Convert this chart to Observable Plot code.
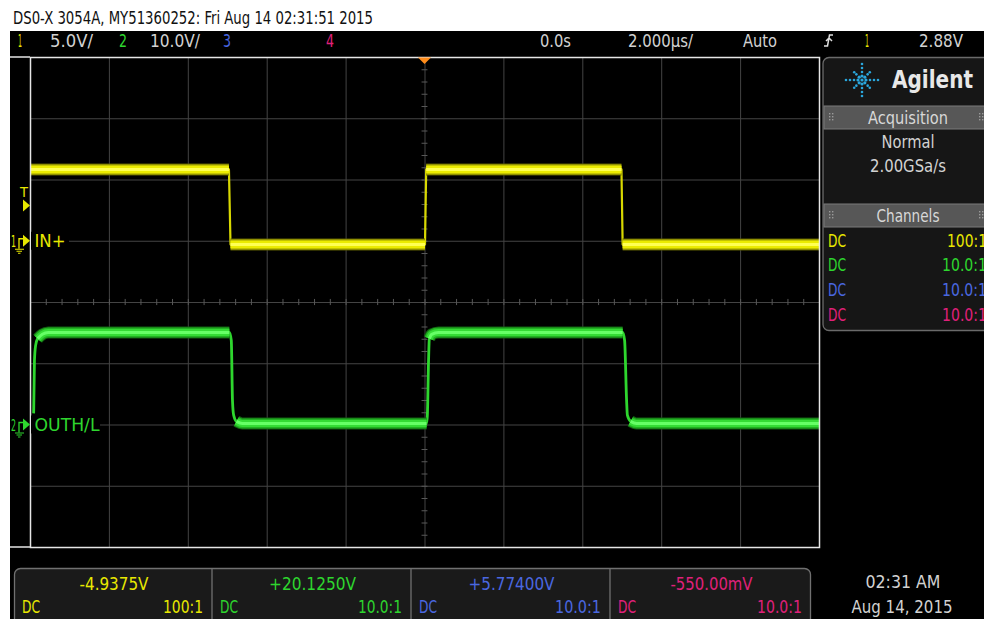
<!DOCTYPE html>
<html><head><meta charset="utf-8">
<script src="https://cdn.jsdelivr.net/npm/d3@7"></script>
<script src="https://cdn.jsdelivr.net/npm/@observablehq/plot@0.6"></script>
<style>
body{margin:0;background:#fff;}
#chart{position:relative;width:984px;height:619px;overflow:hidden;}
svg text{font-family:"Liberation Sans Narrow","DejaVu Sans Condensed","Roboto Condensed",sans-serif;}
</style></head><body><div id="chart"></div>
<script>
const titleText = "DS0-X 3054A, MY51360252: Fri Aug 14 02:31:51 2015";
const channelNames = ["1", "2", "3", "4"];
const channelColors = ["#e8e800", "#2ed62e", "#4a68e0", "#e0207a"];
const channelVPerDiv = [5, 10, 10, 10];        // V/div
const channelOffsetDiv = [1, -2, 0, 0];        // ground marker position, divisions
const channelLabels = ["IN+", "OUTH/L"];
const scaleLabels = ["5.0V/", "10.0V/"];
const timeLabels = ["0.0s", "2.000µs/", "Auto"];
const trigLevelV = 2.88;
const trigLabel = "2.88V";
const measValues = ["-4.9375V", "+20.1250V", "+5.77400V", "-550.00mV"];
const probeRatios = ["100:1", "10.0:1", "10.0:1", "10.0:1"];
const couplings = ["DC", "DC", "DC", "DC"];
const acqLines = ["Normal", "2.00GSa/s"];
const dateLines = ["02:31 AM", "Aug 14, 2015"];
const timeDomain = [-10, 10];   // µs (10 div × 2 µs)
const divDomain = [-4, 4];

// channel 1 (yellow) trace: time µs, volts
const ch1Time  = [-10, -4.97, -4.93, 0.00, 0.03, 4.98, 5.01, 10];
const ch1Volts = [5.86, 5.86, -0.27, -0.27, 5.86, 5.86, -0.27, -0.27];
const ch1Levels = [5.86, -0.27];
// channel 2 (green) trace
const ch2Time  = [-9.92, -9.90, -9.87, -9.82, -9.70, -9.55, -4.96, -4.91, -4.88, -4.85, -4.78, -4.63,
                  0.04, 0.06, 0.09, 0.11, 0.17, 0.34, 5.01, 5.06, 5.11, 5.13, 5.21, 5.36, 10];
const ch2Volts = [1.9, 10.5, 13.0, 14.1, 14.8, 15.1, 15.1, 13.8, 4.0, 1.6, 0.6, 0.25,
                  0.25, 1.6, 10.5, 14.1, 14.8, 15.1, 15.1, 13.8, 4.0, 1.6, 0.6, 0.25, 0.25];
const ch2Levels = [15.1, 0.25];

// ---- build ----
const toDiv = (v, ch) => channelOffsetDiv[ch] + v / channelVPerDiv[ch];
const pts1 = ch1Time.map((t, i) => ({t, v: ch1Volts[i], d: toDiv(ch1Volts[i], 0)}));
const pts2 = ch2Time.map((t, i) => ({t, v: ch2Volts[i], d: toDiv(ch2Volts[i], 1)}));
// split the trace into runs that sit on a settled level (the noisy band)
function bandRuns(pts, levels, tol) {
  const out = []; let seg = 0, prevLevel = null;
  pts.forEach(p => {
    const lv = levels.findIndex(l => Math.abs(p.v - l) <= tol);
    if (lv < 0) { prevLevel = null; return; }
    if (lv !== prevLevel) seg++;
    prevLevel = lv;
    out.push({...p, seg});
  });
  return out;
}
const r1 = bandRuns(pts1, ch1Levels, 0.01);
const r2 = bandRuns(pts2, ch2Levels, 1.0);

function bandMarks(r, cols, widths, curve) {
  return widths.map((w, i) => Plot.line(r, {x: "t", y: "d", z: "seg", stroke: cols[i], strokeWidth: w, curve,
    strokeLinecap: "butt", strokeLinejoin: "round"}));
}

const gridX = d3.range(-8, 9, 2);
const gridY = d3.range(-3, 4, 1);
const minorX = d3.range(-10, 10.001, 0.4);
const minorY = d3.range(-4, 4.001, 0.2);

const chart = Plot.plot({
  width: 984, height: 619,
  marginLeft: 30, marginRight: 165, marginTop: 57, marginBottom: 72,
  x: {domain: timeDomain, axis: null},
  y: {domain: divDomain, axis: null},
  style: {background: "transparent", overflow: "visible"},
  marks: [
    Plot.ruleX(gridX, {stroke: "#444", strokeWidth: 1}),
    Plot.ruleY(gridY, {stroke: "#444", strokeWidth: 1}),
    Plot.ruleX(minorX, {y1: -0.05, y2: 0.05, stroke: "#585858"}),
    Plot.ruleY(minorY, {x1: -0.075, x2: 0.075, stroke: "#585858"}),
    Plot.line(pts1, {x: "t", y: "d", stroke: "#d8d800", strokeWidth: 2.2, strokeLinecap: "butt"}),
    ...bandMarks(r1, ["#5c5c00", "#c4c400", "#ecec00", "#ffff55"], [12, 10, 7, 3], "linear"),
    Plot.line(pts2, {x: "t", y: "d", stroke: "#2ed62e", strokeWidth: 2.8, curve: "monotone-x", strokeLinecap: "butt"}),
    ...bandMarks(r2, ["#106010", "#22b022", "#34dc34", "#66ff66"], [12, 10, 7, 3], "monotone-x"),
    Plot.frame({stroke: "#e6e6e6", strokeWidth: 1.5})
  ]
});
document.getElementById("chart").appendChild(chart);

const svg = d3.select(chart);
const X = chart.scale("x"), Y = chart.scale("y");
const bg = svg.insert("g", ":first-child");
bg.append("rect").attr("x", 0).attr("y", 0).attr("width", 984).attr("height", 619).attr("fill", "#fff");
bg.append("rect").attr("x", 10).attr("y", 31).attr("width", 974).attr("height", 588).attr("fill", "#000");

const g = svg.append("g").attr("text-anchor", "start");
function T(x, y, s, o = {}) {
  const t = g.append("text").attr("x", x).attr("y", y).text(s)
    .attr("fill", o.fill || "#d2d2d2").attr("font-size", o.size || 17)
    .attr("text-anchor", o.anchor || "start");
  if (o.len) t.attr("textLength", o.len).attr("lengthAdjust", "spacingAndGlyphs");
  if (o.weight) t.attr("font-weight", o.weight);
  if (o.family) t.attr("font-family", o.family);
  return t;
}
// extend top/bottom borders to left edge
g.append("line").attr("x1", 10).attr("x2", 30).attr("y1", 57).attr("y2", 57).attr("stroke", "#e6e6e6").attr("stroke-width", 1.5);
g.append("line").attr("x1", 10).attr("x2", 30).attr("y1", 547).attr("y2", 547).attr("stroke", "#e6e6e6").attr("stroke-width", 1.5);

// title
T(13, 24, titleText, {fill: "#111", size: 17, len: 360});

// top bar
T(18, 47, channelNames[0], {fill: channelColors[0], size: 18, len: 4});
T(50, 47, scaleLabels[0], {size: 18, len: 43});
T(119, 47, channelNames[1], {fill: channelColors[1], size: 18, len: 8});
T(150, 47, scaleLabels[1], {size: 18, len: 50});
T(223, 47, channelNames[2], {fill: channelColors[2], size: 18, len: 8});
T(326, 47, channelNames[3], {fill: channelColors[3], size: 18, len: 8});
T(540, 47, timeLabels[0], {size: 18, len: 31});
T(628, 47, timeLabels[1], {size: 18, len: 65});
T(743, 47, timeLabels[2], {size: 18, len: 34});
g.append("path").attr("d", "M824,46 H827.5 L829.5,35 H833 M826,41 L829,38 L832,41")
  .attr("stroke", "#e0e0e0").attr("fill", "none").attr("stroke-width", 1.5);
T(865, 47, channelNames[0], {fill: channelColors[0], size: 18, len: 4});
T(919, 47, trigLabel, {size: 18, len: 44});

// trigger position marker
const tx = X.apply(0);
g.append("path").attr("d", `M${tx - 6.5},57.5 L${tx + 6.5},57.5 L${tx},64 Z`).attr("fill", "#ff8c1a");

// trigger level marker
const ty = Y.apply(toDiv(trigLevelV, 0));
T(20, ty - 8, "T", {fill: channelColors[0], size: 14, len: 8});
g.append("path").attr("d", `M23,${ty - 6} L30,${ty} L23,${ty + 6} Z`).attr("fill", channelColors[0]);

// ground markers
function groundMarker(ch, label, lblLen, maskW) {
  const y0 = Y.apply(channelOffsetDiv[ch]);
  const c = channelColors[ch];
  g.append("rect").attr("x", 31).attr("y", y0 - 9).attr("width", maskW).attr("height", 18).attr("fill", "#000");
  T(11, y0 + 6, channelNames[ch], {fill: c, size: 15, len: 5});
  g.append("path").attr("d", `M19,${y0 + 8} V${y0 - 2} H24`).attr("stroke", c).attr("fill", "none").attr("stroke-width", 1.3);
  g.append("path").attr("d", `M15,${y0 + 8.5} H24 M16.5,${y0 + 10.5} H22 M18,${y0 + 12.5} H20.5`).attr("stroke", c).attr("stroke-width", 1.2);
  g.append("path").attr("d", `M23,${y0 - 6} L30,${y0} L23,${y0 + 6} Z`).attr("fill", c);
  T(34.5, y0 + 6.5, label, {fill: c, size: 18, len: lblLen});
}
groundMarker(0, channelLabels[0], 31, 38);
groundMarker(1, channelLabels[1], 65, 69);

// right panel
g.append("rect").attr("x", 823).attr("y", 57.5).attr("width", 175).attr("height", 273).attr("rx", 6)
  .attr("fill", "#161616").attr("stroke", "#6a6a6a").attr("stroke-width", 1.3);
// logo
const lx = 862, ly = 80;
for (let k = 0; k < 8; k++) {
  const a = k * Math.PI / 4;
  const rr = k % 2 === 0 ? [4, 8, 12, 16] : [4, 8, 11];
  rr.forEach((r, j) => {
    g.append("circle").attr("cx", lx + r * Math.cos(a)).attr("cy", ly + r * Math.sin(a))
      .attr("r", j === 0 ? 1.6 : 1.3).attr("fill", "#2aa6dc");
  });
}
g.append("circle").attr("cx", lx).attr("cy", ly).attr("r", 1.6).attr("fill", "#2aa6dc");
T(892, 88, "Agilent", {fill: "#e8e8e8", size: 25, weight: "bold", len: 81, family: "'Liberation Sans','DejaVu Sans',sans-serif"});
function headerBar(y, label, len) {
  g.append("rect").attr("x", 824).attr("y", y).attr("width", 165).attr("height", 23)
    .attr("fill", "#575757").attr("stroke", "#7a7a7a").attr("stroke-width", 1);
  [829, 979].forEach(x0 => {
    for (let i = 0; i < 3; i++) for (let j = 0; j < 2; j++)
      g.append("rect").attr("x", x0 + j * 3).attr("y", y + 7 + i * 3).attr("width", 1.4).attr("height", 1.4).attr("fill", "#9a9a9a");
  });
  T(908, y + 18, label, {anchor: "middle", size: 18, len, fill: "#d8d8d8"});
}
headerBar(106, "Acquisition", 80);
T(908, 148, acqLines[0], {anchor: "middle", size: 18, len: 53});
T(908, 172, acqLines[1], {anchor: "middle", size: 18, len: 76});
headerBar(204, "Channels", 63);
const rowY = [247, 271, 296, 321];
couplings.forEach((c, i) => {
  T(828, rowY[i], c, {fill: channelColors[i], size: 18, len: 18});
  T(i === 0 ? 947 : 942, rowY[i], probeRatios[i], {fill: channelColors[i], size: 18, len: i === 0 ? 40 : 45});
});

// bottom measurement panel
g.append("rect").attr("x", 14.5).attr("y", 568.5).attr("width", 796).attr("height", 70).attr("rx", 6)
  .attr("fill", "#1a1a1a").attr("stroke", "#707070").attr("stroke-width", 1.3);
const secX = [14, 212, 411, 610, 811];
const valLen = [69, 87, 86, 82];
const ratLen = [40, 44, 46, 45];
[212, 411, 610].forEach(x => g.append("line").attr("x1", x).attr("x2", x).attr("y1", 569).attr("y2", 619).attr("stroke", "#707070").attr("stroke-width", 1.3));
measValues.forEach((v, i) => {
  const c = channelColors[i];
  T((secX[i] + secX[i + 1]) / 2 + 1, 590, v, {fill: c, anchor: "middle", size: 18, len: valLen[i]});
  T(secX[i] + 8, 613, couplings[i], {fill: c, size: 18, len: 18});
  T(secX[i + 1] - 9, 613, probeRatios[i], {fill: c, anchor: "end", size: 18, len: ratLen[i]});
});

// date / time
T(903, 588, dateLines[0], {anchor: "middle", size: 18, len: 75});
T(902, 613, dateLines[1], {anchor: "middle", size: 18, len: 101});
</script></body></html>
